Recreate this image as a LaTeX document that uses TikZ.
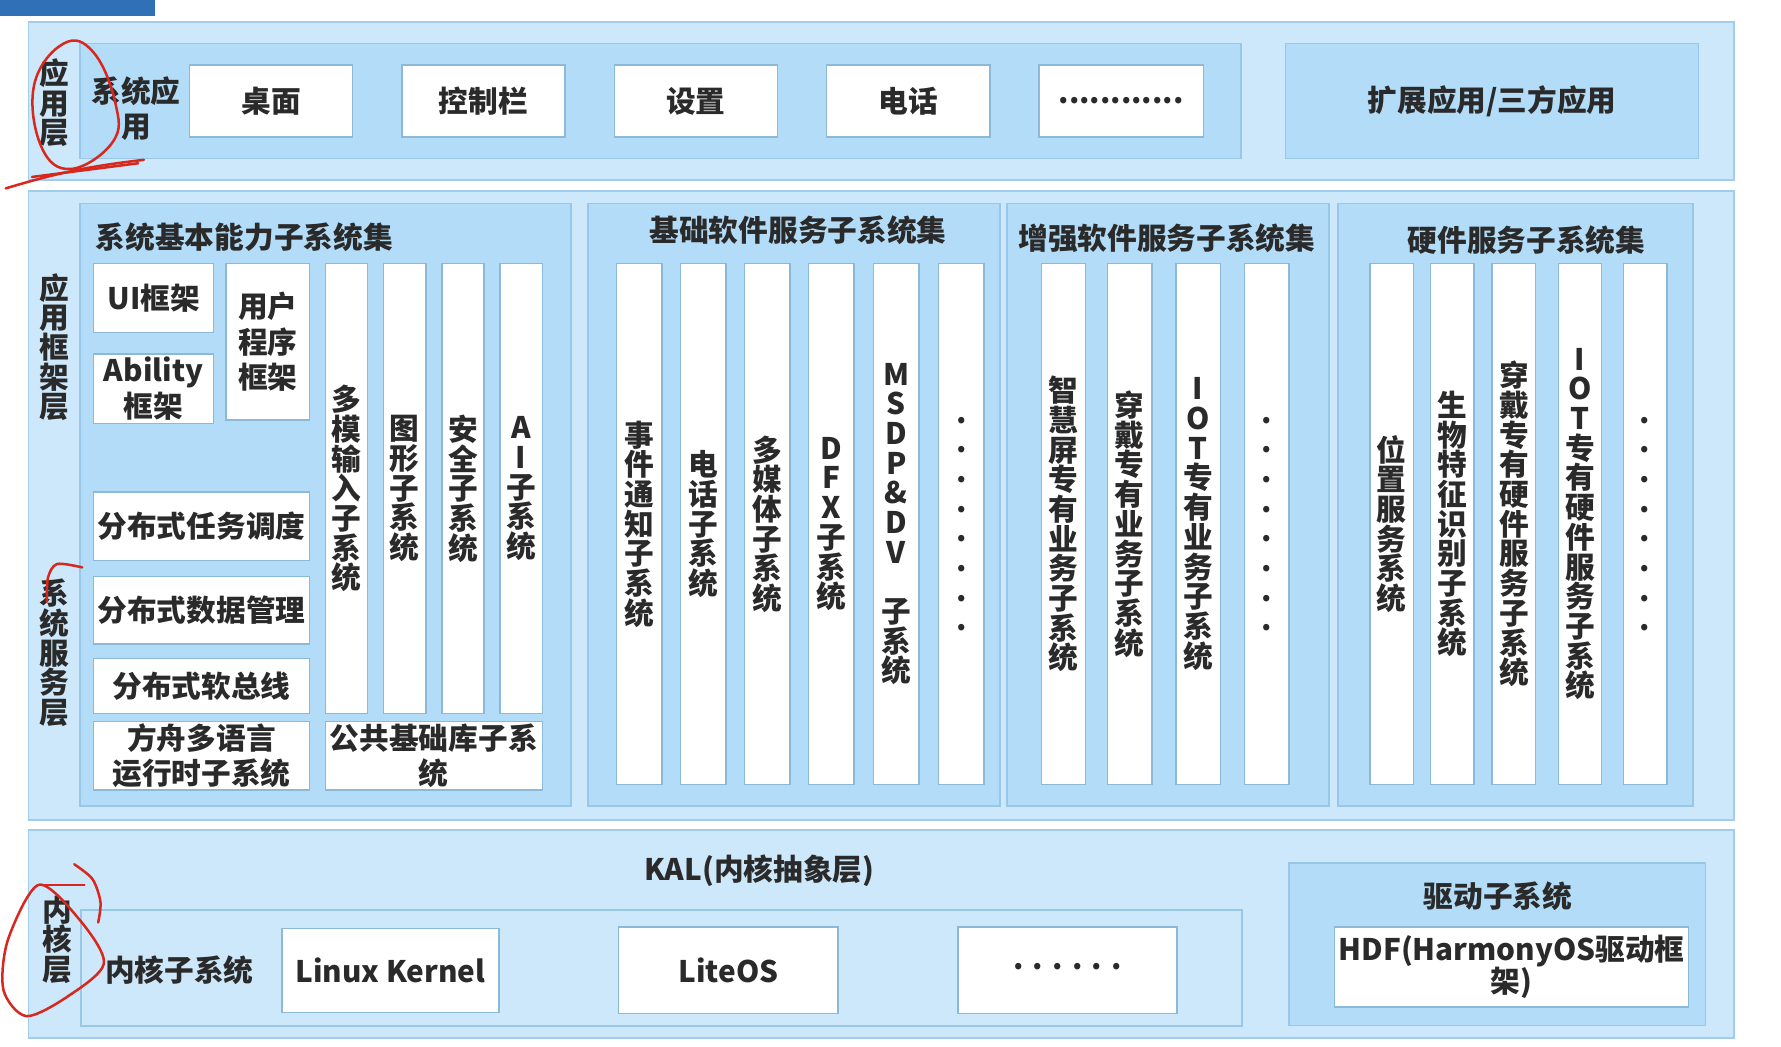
\documentclass[tikz,border=0pt]{standalone}
\usepackage{fontspec}
\setmainfont{Noto Sans CJK SC}
\usetikzlibrary{positioning}

\definecolor{layerfill}{HTML}{CDE8FB}
\definecolor{layerline}{HTML}{A2CCEB}
\definecolor{panelfill}{HTML}{B2DCF8}
\definecolor{panelline}{HTML}{98C7E8}
\definecolor{cellline}{HTML}{8DB9D9}
\definecolor{tabblue}{HTML}{2F70B7}
\definecolor{inkgray}{HTML}{2A2A2A}
\definecolor{penred}{HTML}{D8271D}

\newcommand{\hfont}{\fontsize{13}{15.5}\selectfont\bfseries\lineskiplimit=-20pt}
\newcommand{\vfont}{\fontsize{13}{13}\selectfont\bfseries\lineskiplimit=-20pt}

\tikzset{
  every node/.style={inner sep=0pt, outer sep=0pt, text=inkgray, font=\hfont},
  wh/.style 2 args={minimum width=#1*0.5pt, minimum height=#2*0.5pt},
  layer/.style={draw=layerline, fill=layerfill, line width=0.8pt},
  frame/.style={draw=panelline, fill=layerfill, line width=0.8pt},
  panel/.style={draw=panelline, fill=panelfill, line width=0.6pt, align=center},
  cell/.style={draw=cellline, fill=white, line width=0.6pt, align=center},
  vlabel/.style={align=center, font=\vfont},
  redpen/.style={draw=penred, line width=1.1pt, line cap=round, line join=round},
}

\begin{document}
\begin{tikzpicture}[x=0.5pt, y=-0.5pt]
\useasboundingbox (0,0) rectangle (1560,917);

% tab at the top
\fill[tabblue] (0,0) rectangle (136,14);

% the three layers
\node[layer, wh={1494}{139}, anchor=north west] (appL) at (25,19) {};
\node[layer, wh={1494}{551}, anchor=north west] (frameL) at (25,167) {};
\node[layer, wh={1494}{182}, anchor=north west] (kernL) at (25,727) {};

% application layer
\node[vlabel] (appLbl) at (48,90) {应\\用\\层};
\node[panel, wh={1017}{101}, anchor=north west] (sysApp) at (70,38) {};
\node[align=center] (sysAppLbl) at (119,95) {系统应\\用};
\node[cell, wh={143}{63}, anchor=north west] (desk) at (166,57) {桌面};
\node[cell, wh={143}{63}, right=21.5pt of desk] (ctrl) {控制栏};
\node[cell, wh={143}{63}, right=21.5pt of ctrl] (setting) {设置};
\node[cell, wh={143}{63}, right=21.5pt of setting] (phone) {电话};
\node[cell, wh={144}{63}, right=21.5pt of phone] (appMore) {............};
\node[panel, wh={362}{101}, anchor=north west] (extApp) at (1126,38) {扩展应用/三方应用};

% framework / service layer
\node[vlabel] (fwLbl) at (48,304) {应\\用\\框\\架\\层};
\node[vlabel] (svcLbl) at (48,572) {系\\统\\服\\务\\层};

\node[panel, wh={430}{528}, anchor=north west] (basic) at (70,178) {};
\node[panel, wh={361}{528}, anchor=north west] (baseSw) at (515,178) {};
\node[panel, wh={282}{528}, anchor=north west] (plusSw) at (882,178) {};
\node[panel, wh={311}{528}, anchor=north west] (hwSvc) at (1172,178) {};

\node[anchor=west] (basicTtl) at (84,208) {系统基本能力子系统集};
\node (baseSwTtl) at (699,202) {基础软件服务子系统集};
\node (plusSwTtl) at (1022,209) {增强软件服务子系统集};
\node (hwSvcTtl) at (1337,210) {硬件服务子系统集};

% system basic capability subsystems
\node[cell, wh={105}{60}, anchor=north west] (uiFw) at (82,231) {UI框架};
\node[cell, wh={105}{61}, anchor=north west] (abilityFw) at (82,310) {Ability\\框架};
\node[cell, wh={73}{137}, anchor=north west] (userFw) at (198,231) {用户\\程序\\框架};
\foreach \nm/\xx/\txt in {multiIn/285/{多\\模\\输\\入\\子\\系\\统}, graphic/336/{图\\形\\子\\系\\统},
    secure/387/{安\\全\\子\\系\\统}, aiSub/438/{A\\I\\子\\系\\统}}
  \node[cell, font=\vfont, wh={37}{394}, anchor=north west] (\nm) at (\xx,231) {\txt};
\node[cell, wh={189}{60}, anchor=north west] (taskSched) at (82,431) {分布式任务调度};
\node[cell, wh={189}{59}, anchor=north west] (dataMgmt) at (82,505) {分布式数据管理};
\node[cell, wh={189}{48}, anchor=north west] (softBus) at (82,577) {分布式软总线};
\node[cell, wh={189}{60}, anchor=north west] (arkRt) at (82,632) {方舟多语言\\运行时子系统};
\node[cell, wh={190}{60}, anchor=north west] (commonLib) at (285,632) {公共基础库子系\\统};

% basic software services
\foreach \nm/\xx/\txt in {event/540/{事\\件\\通\\知\\子\\系\\统}, tel/596/{电\\话\\子\\系\\统},
    media/652/{多\\媒\\体\\子\\系\\统}, dfx/708/{D\\F\\X\\子\\系\\统},
    msdp/765/{M\\S\\D\\P\\\&\\D\\V\\[13pt]子\\系\\统}, baseMore/822/{.\\.\\.\\.\\.\\.\\.\\.}}
  \node[cell, font=\vfont, wh={40}{456}, anchor=north west] (\nm) at (\xx,231) {\txt};

% enhanced software services
\foreach \nm/\xx/\txt in {smartTv/912/{智\\慧\\屏\\专\\有\\业\\务\\子\\系\\统}, wearSw/970/{穿\\戴\\专\\有\\业\\务\\子\\系\\统},
    iotSw/1030/{I\\O\\T\\专\\有\\业\\务\\子\\系\\统}, plusMore/1090/{.\\.\\.\\.\\.\\.\\.\\.}}
  \node[cell, font=\vfont, wh={39}{456}, anchor=north west] (\nm) at (\xx,231) {\txt};

% hardware services
\foreach \nm/\xx/\txt in {location/1200/{位\\置\\服\\务\\系\\统}, biometric/1253/{生\\物\\特\\征\\识\\别\\子\\系\\统},
    wearHw/1307/{穿\\戴\\专\\有\\硬\\件\\服\\务\\子\\系\\统}, iotHw/1365/{I\\O\\T\\专\\有\\硬\\件\\服\\务\\子\\系\\统},
    hwMore/1422/{.\\.\\.\\.\\.\\.\\.\\.}}
  \node[cell, font=\vfont, wh={38}{456}, anchor=north west] (\nm) at (\xx,231) {\txt};

% kernel layer
\node[vlabel] (kernLbl) at (50,823) {内\\核\\层};
\node (kalTxt) at (665,763) {KAL(内核抽象层)};
\node[frame, wh={1017}{102}, anchor=north west] (kernSub) at (71,797) {};
\node (kernSubLbl) at (157,850) {内核子系统};
\node[cell, wh={190}{74}, anchor=north west] (linux) at (247,813) {Linux Kernel};
\node[cell, wh={192}{76}, right=52.5pt of linux] (liteos) {LiteOS};
\node[cell, wh={192}{76}, right=52.5pt of liteos] (kernMore)
  {\raisebox{3.5pt}{.\hspace{4pt}.\hspace{4pt}.\hspace{4pt}.\hspace{4pt}.\hspace{4pt}.}};
\node[panel, wh={365}{142}, anchor=north west] (driver) at (1129,756) {};
\node (driverTtl) at (1312,785) {驱动子系统};
\node[cell, wh={310}{70}, anchor=north west, font=\fontsize{13}{14}\selectfont\bfseries] (hdf) at (1169,812) {HDF(HarmonyOS驱动框\\架)};

% pen marks on the slide
\draw[redpen] plot[smooth cycle, tension=0.7] coordinates {(56,38) (82,46) (101,90) (99,124) (62,148) (36,128) (30,74)};
\draw[redpen] (5,165) to[bend left=5] (126,140);
\draw[redpen] (28,155) -- (121,143);
\draw[redpen] plot[smooth] coordinates {(41,527) (42,506) (50,494) (72,497)};
\draw[redpen] plot[smooth cycle] coordinates {(34,775) (7,823) (3,867) (23,890) (59,873) (91,844) (70,806)};
\draw[redpen] (34,775) -- (74,775);
\draw[redpen] plot[smooth] coordinates {(65,757) (81,770) (88,790) (86,808)};
\end{tikzpicture}
\end{document}
